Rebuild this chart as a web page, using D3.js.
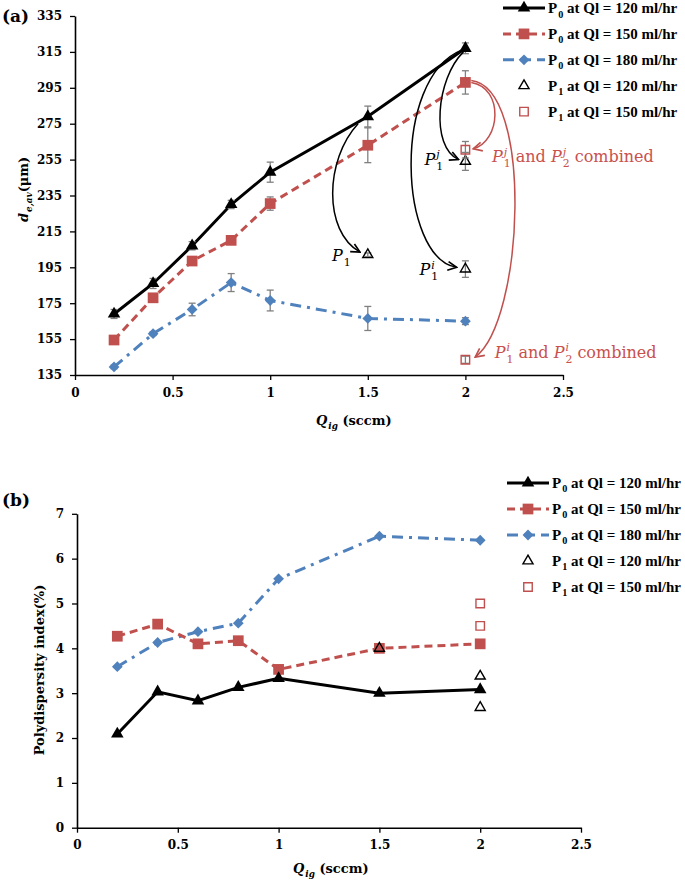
<!DOCTYPE html>
<html>
<head>
<meta charset="utf-8">
<script src="https://cdn.jsdelivr.net/npm/d3@7/dist/d3.min.js"></script>
<style>
  body { margin: 0; background: #fff; }
  svg { display: block; }
  .tick text { font-family: "DejaVu Serif", serif; font-weight: bold; font-size: 12px; fill: #000; }
</style>
</head>
<body>
<svg id="chart" width="685" height="881"></svg>
<script>
// ---------------- DATA ----------------
const qig = [0.2, 0.4, 0.6, 0.8, 1.0, 1.5, 2.0];
const xTicks = [0, 0.5, 1, 1.5, 2, 2.5];
const yTicksA = [135, 155, 175, 195, 215, 235, 255, 275, 295, 315, 335];
const yTicksB = [0, 1, 2, 3, 4, 5, 6, 7];

// (a) mean droplet diameter d_e,av (µm)
const dA120 = [169, 186, 207, 230, 248, 279, 317];
const dA150 = [154.5, 178, 198.5, 210, 230.5, 263, 298];
const dA180 = [139.5, 158, 171.5, 186.5, 176.5, 166.5, 165];
const errA120 = [2.5, 2.8, 2.3, 2.3, 5.6, 5.8, 3];
const errA150 = [1.5, 1.5, 1.5, 1.5, 3.7, 9.7, 6.5];
const errA180 = [1, 1, 3.5, 5, 5.8, 6.7, 1.9];
// P1 points (open markers)
const p1A120x = [1.5, 2, 2];
const p1A120y = [202, 254, 194];
const p1A120e = [1, 5, 4.6];
const p1A150x = [2, 2];
const p1A150y = [260.5, 143.5];
const p1A150e = [4.6, 2];

// (b) polydispersity index (%)
const pdi120 = [2.09, 3.03, 2.83, 3.13, 3.33, 3.0, 3.08];
const pdi150 = [4.27, 4.54, 4.10, 4.17, 3.53, 4.0, 4.10];
const pdi180 = [3.59, 4.13, 4.37, 4.56, 5.55, 6.50, 6.41];
const p1B120x = [1.5, 2, 2];
const p1B120y = [4.0, 3.38, 2.68];
const p1B150x = [2, 2];
const p1B150y = [5.0, 4.5];

const legendLabels = [
  ["0", " at Ql = 120 ml/hr"],
  ["0", " at Ql = 150 ml/hr"],
  ["0", " at Ql = 180 ml/hr"],
  ["1", " at Ql = 120 ml/hr"],
  ["1", " at Ql = 150 ml/hr"]
];

// ---------------- STYLE ----------------
const BLACK = "#000000", RED = "#C0504D", BLUE = "#4F81BD", GREY = "#808080", RTXT = "#C9504D";
const FONT = '"DejaVu Serif", serif';
const LFONT = '"Liberation Serif", serif';
const seriesStyle = [
  {color: BLACK, dash: null, sym: "tri"},
  {color: RED, dash: "8,5", sym: "sq"},
  {color: BLUE, dash: "11,6,3,6", sym: "dia"}
];

const svg = d3.select("#chart");
const defs = svg.append("defs");
function arrowMarker(id, color) {
  defs.append("marker").attr("id", id)
    .attr("viewBox", "0 0 10 10").attr("refX", 9).attr("refY", 5)
    .attr("markerWidth", 11).attr("markerHeight", 11)
    .attr("markerUnits", "userSpaceOnUse").attr("orient", "auto")
    .append("path").attr("d", "M1,1 L9,5 L1,9")
    .attr("fill", "none").attr("stroke", color).attr("stroke-width", 1.5);
}
arrowMarker("arrK", BLACK);
arrowMarker("arrR", RED);

function symPath(sym) {
  if (sym === "tri") return d3.symbol(d3.symbolTriangle, 68)();
  if (sym === "sq") return d3.symbol(d3.symbolSquare, 115)();
  if (sym === "dia") return d3.symbol(d3.symbolSquare, 58)();
  if (sym === "otri") return d3.symbol(d3.symbolTriangle, 44)();
  if (sym === "osq") return d3.symbol(d3.symbolSquare, 72)();
}
function drawSym(g, sym, x, y, color) {
  const p = g.append("path").attr("d", symPath(sym))
    .attr("transform", `translate(${x},${y})` + (sym === "dia" ? " rotate(45)" : ""));
  if (sym === "otri" || sym === "osq") {
    p.attr("fill", "none").attr("stroke", color).attr("stroke-width", 1.4);
  } else {
    p.attr("fill", color);
  }
}

function drawAxes(x, y, yTicks) {
  const gx = svg.append("g").attr("transform", `translate(0,${y.range()[0]})`)
    .call(d3.axisBottom(x).tickValues(xTicks).tickFormat(d => String(d)).tickSize(5).tickSizeOuter(0).tickPadding(8));
  const gy = svg.append("g").attr("transform", `translate(${x.range()[0]},0)`)
    .call(d3.axisLeft(y).tickValues(yTicks).tickFormat(d => String(d)).tickSize(5).tickSizeOuter(0).tickPadding(8));
  [gx, gy].forEach(g => {
    g.select(".domain").attr("stroke", "#000").attr("stroke-width", 1.6);
    g.selectAll(".tick line").attr("stroke", "#000").attr("stroke-width", 1.3);
  });
}

function drawSeries(x, y, ys, style, errs) {
  const line = d3.line().x((d, i) => x(qig[i])).y(d => y(d));
  svg.append("path").datum(ys).attr("d", line)
    .attr("fill", "none").attr("stroke", style.color).attr("stroke-width", 3)
    .attr("stroke-dasharray", style.dash);
  if (errs) drawErr(x, y, qig, ys, errs);
  const g = svg.append("g");
  ys.forEach((v, i) => drawSym(g, style.sym, x(qig[i]), y(v), style.color));
}
function drawErr(x, y, xs, ys, errs) {
  const g = svg.append("g").attr("stroke", GREY).attr("stroke-width", 1.3);
  ys.forEach((v, i) => {
    const cx = x(xs[i]), y1 = y(v - errs[i]), y2 = y(v + errs[i]);
    g.append("line").attr("x1", cx).attr("x2", cx).attr("y1", y1).attr("y2", y2);
    g.append("line").attr("x1", cx - 3.5).attr("x2", cx + 3.5).attr("y1", y1).attr("y2", y1);
    g.append("line").attr("x1", cx - 3.5).attr("x2", cx + 3.5).attr("y1", y2).attr("y2", y2);
  });
}
function drawOpen(x, y, xs, ys, sym, color, errs) {
  if (errs) drawErr(x, y, xs, ys, errs);
  const g = svg.append("g");
  ys.forEach((v, i) => drawSym(g, sym, x(xs[i]), y(v), color));
}

// rich text: parts = [{t, it, sub, sup}] ; returns width
function richText(g, x, y, parts, size, color, bold, font) {
  font = font || FONT;
  let cx = x;
  const small = size * 0.68;
  parts.forEach(p => {
    const t = g.append("text").attr("x", cx).attr("y", y)
      .attr("font-family", font).attr("font-size", size)
      .attr("font-weight", bold ? "bold" : "normal")
      .attr("font-style", p.it ? "italic" : "normal")
      .attr("fill", color).style("white-space", "pre").text(p.t);
    cx += t.node().getComputedTextLength();
    let w = 0;
    if (p.sup) {
      const s = g.append("text").attr("x", cx + 1).attr("y", y - size * 0.42)
        .attr("font-family", font).attr("font-size", small).attr("font-style", "italic")
        .attr("font-weight", bold ? "bold" : "normal").attr("fill", color).text(p.sup);
      w = Math.max(w, s.node().getComputedTextLength() + 1);
    }
    if (p.sub) {
      const s = g.append("text").attr("x", cx + 1).attr("y", y + size * 0.3)
        .attr("font-family", font).attr("font-size", small)
        .attr("font-style", p.subIt ? "italic" : "normal")
        .attr("font-weight", bold ? "bold" : "normal").attr("fill", color).text(p.sub);
      w = Math.max(w, s.node().getComputedTextLength() + 1);
    }
    cx += w;
  });
  return cx - x;
}

// ---------------- PANEL (a) ----------------
const xA = d3.scaleLinear([0, 2.5], [75, 563]);
const yA = d3.scaleLinear([135, 335], [375, 16]);
drawAxes(xA, yA, yTicksA);
[dA180, dA150, dA120].forEach((ys, k) => {
  const idx = 2 - k;
  drawSeries(xA, yA, ys, seriesStyle[idx], [errA120, errA150, errA180][idx]);
});
drawOpen(xA, yA, p1A120x, p1A120y, "otri", BLACK, p1A120e);
drawOpen(xA, yA, p1A150x, p1A150y, "osq", RED, p1A150e);

// annotation arrows (data-space anchor & control points)
const arrowsA = [
  {c: BLACK, m: "arrK", p: [[1.45, 275], [1.28, 255], [1.27, 215], [1.46, 203.5]]},
  {c: BLACK, m: "arrK", p: [[1.98, 316], [1.62, 300], [1.66, 200], [1.955, 195]]},
  {c: BLACK, m: "arrK", p: [[1.99, 315], [1.85, 300], [1.82, 262], [1.965, 255]]},
  {c: RED, m: "arrR", p: [[2.03, 298], [2.2, 295], [2.18, 265], [2.04, 261]]},
  {c: RED, m: "arrR", p: [[2.03, 299], [2.35, 295], [2.3, 165], [2.05, 145]]}
];
arrowsA.forEach(a => {
  const P = a.p.map(d => [xA(d[0]), yA(d[1])]);
  svg.append("path")
    .attr("d", `M${P[0]}C${P[1]} ${P[2]} ${P[3]}`)
    .attr("fill", "none").attr("stroke", a.c).attr("stroke-width", 1.5)
    .attr("marker-end", `url(#${a.m})`);
});

const ann = svg.append("g");
richText(ann, xA(1.317), yA(198.5), [{t: "P", it: true, sub: "1"}], 16, BLACK);
richText(ann, xA(1.79), yA(252), [{t: "P", it: true, sub: "1", sup: "j"}], 16, BLACK);
richText(ann, xA(1.765), yA(190.5), [{t: "P", it: true, sub: "1", sup: "i"}], 16, BLACK);
richText(ann, xA(2.136), yA(253.5), [
  {t: "P", it: true, sub: "1", sup: "j"}, {t: " and "}, {t: "P", it: true, sub: "2", sup: "j"}, {t: " combined"}
], 16, RTXT);
richText(ann, xA(2.15), yA(144.5), [
  {t: "P", it: true, sub: "1", sup: "i"}, {t: " and "}, {t: "P", it: true, sub: "2", sup: "i"}, {t: " combined"}
], 16, RTXT);

// axis titles (a)
svg.append("text").attr("x", 2).attr("y", 22).attr("font-family", FONT)
  .attr("font-weight", "bold").attr("font-size", 17).text("(a)");
{
  const g = svg.append("g").attr("transform", "translate(28,222) rotate(-90)");
  richText(g, 0, 0, [{t: "d", it: true, sub: "e,av", subIt: true}, {t: "(μm)"}], 13, BLACK, true);
}
{
  const g = svg.append("g").attr("transform", "translate(316,425)");
  richText(g, 0, 0, [{t: "Q", it: true, sub: "ig", subIt: true}, {t: " (sccm)"}], 13, BLACK, true);
}

// ---------------- PANEL (b) ----------------
const xB = d3.scaleLinear([0, 2.5], [77, 581]);
const yB = d3.scaleLinear([0, 7], [827.7, 513.8]);
drawAxes(xB, yB, yTicksB);
[pdi180, pdi150, pdi120].forEach((ys, k) => drawSeries(xB, yB, ys, seriesStyle[2 - k], null));
drawOpen(xB, yB, p1B120x, p1B120y, "otri", BLACK, null);
drawOpen(xB, yB, p1B150x, p1B150y, "osq", RED, null);

svg.append("text").attr("x", 2).attr("y", 506).attr("font-family", FONT)
  .attr("font-weight", "bold").attr("font-size", 17).text("(b)");
svg.append("text").attr("transform", "translate(44,670) rotate(-90)")
  .attr("text-anchor", "middle").attr("font-family", FONT).attr("font-weight", "bold")
  .attr("font-size", 13).text("Polydispersity index(%)");
{
  const g = svg.append("g").attr("transform", "translate(293,873)");
  richText(g, 0, 0, [{t: "Q", it: true, sub: "ig", subIt: true}, {t: " (sccm)"}], 13, BLACK, true);
}

// ---------------- LEGENDS ----------------
function legend(x0, y0, step, maxW) {
  const styles = [
    {color: BLACK, dash: null, sym: "tri", line: true},
    {color: RED, dash: "8,5", sym: "sq", line: true},
    {color: BLUE, dash: "11,6", sym: "dia", line: true},
    {color: BLACK, sym: "otri", line: false},
    {color: RED, sym: "osq", line: false}
  ];
  const g = svg.append("g");
  legendLabels.forEach((lab, i) => {
    const y = y0 + i * step, s = styles[i];
    if (s.line) {
      g.append("line").attr("x1", x0).attr("x2", x0 + 42).attr("y1", y).attr("y2", y)
        .attr("stroke", s.color).attr("stroke-width", 3).attr("stroke-dasharray", s.dash);
    }
    drawSym(g, s.sym, x0 + 21, y, s.color);
    const tg = g.append("g");
    let size = 15;
    let w = richText(tg, x0 + 45, y + 5, [{t: "P", sub: lab[0]}, {t: lab[1]}], size, BLACK, true, LFONT);
    if (w > maxW) {
      tg.selectAll("*").remove();
      size = size * maxW / w;
      richText(tg, x0 + 45, y + 5, [{t: "P", sub: lab[0]}, {t: lab[1]}], size, BLACK, true, LFONT);
    }
  });
}
legend(503, 8, 25.9, 133);
legend(507, 483, 26, 129);
</script>
</body>
</html>
